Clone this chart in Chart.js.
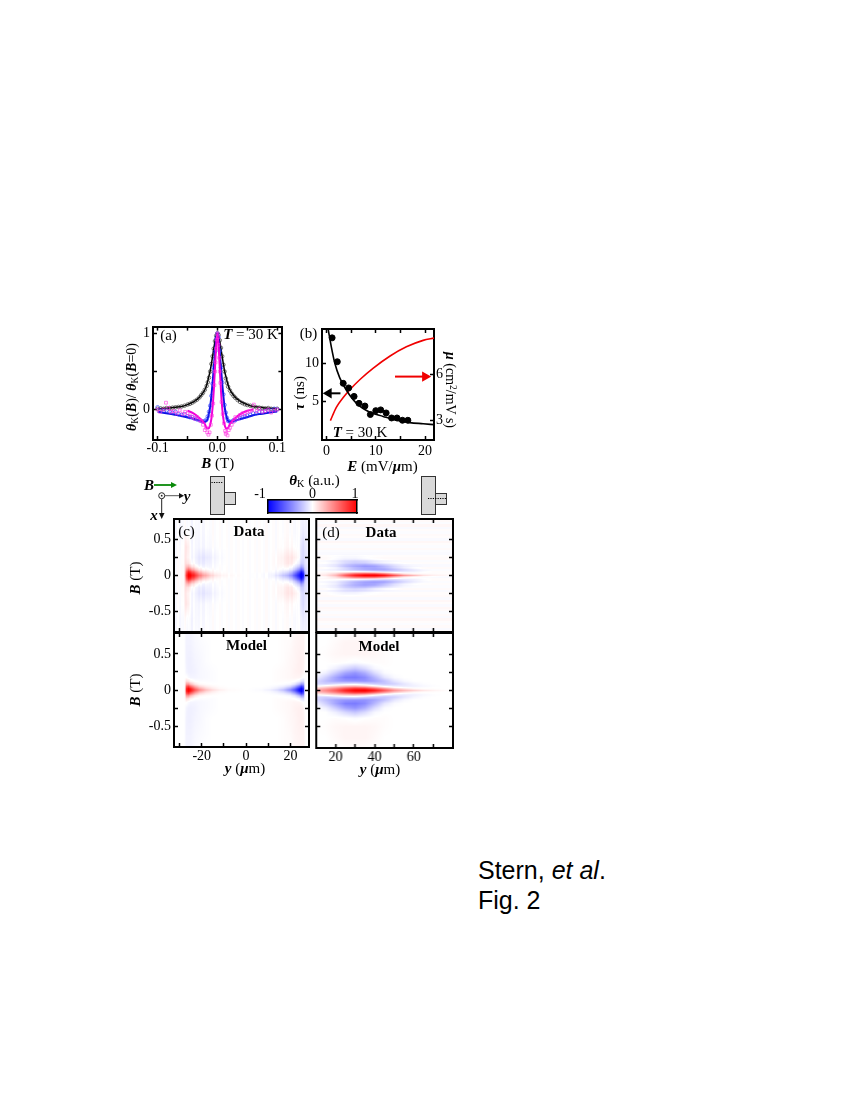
<!DOCTYPE html>
<html><head><meta charset="utf-8">
<script src="https://cdn.jsdelivr.net/npm/chart.js@4"></script>
<style>
html,body{margin:0;padding:0;background:#fff;width:850px;height:1100px;overflow:hidden}
canvas{position:absolute}
.t{position:absolute;white-space:nowrap;font-family:"Liberation Serif",serif;font-size:15px;color:#000;line-height:1;transform:translate(-50%,-50%)}
.b{font-weight:bold}.bi{font-weight:bold;font-style:italic}
sub{font-size:.68em;line-height:0;vertical-align:-.25em}sup{font-size:.68em;line-height:0;vertical-align:.4em}
.box{position:absolute;background:#d9d9d9;border:1.3px solid #333;box-sizing:border-box}
svg{position:absolute;left:0;top:0}
</style></head><body>
<script>
// ---------- panel (a): Kerr rotation vs field ----------
const aLineB=[-.1,-.08,-.07,-.06,-.05,-.04,-.03,-.025,-.021,-.018,-.015,-.012,-.01,-.008,-.006,-.004,-.002,0,.002,.004,.006,.008,.01,.012,.015,.018,.021,.025,.03,.04,.05,.06,.07,.08,.1];
const aLineBlack=[.01,.02,.03,.04,.065,.10,.16,.21,.26,.32,.41,.51,.6,.7,.8,.9,.97,1,.97,.9,.8,.7,.6,.51,.41,.32,.26,.21,.16,.10,.065,.04,.03,.02,.01];
const aLineBlue=[-.03,-.055,-.07,-.085,-.1,-.12,-.145,-.155,-.16,-.15,-.08,.04,.18,.35,.55,.75,.93,1,.93,.75,.55,.35,.18,.04,-.08,-.15,-.16,-.155,-.145,-.12,-.1,-.075,-.06,-.05,-.025];
const aMagLineB=[-.05,-.04,-.03,-.025,-.021,-.018,-.015,-.012,-.01,-.008,-.006,-.004,-.002,0,.002,.004,.006,.008,.01,.012,.015,.018,.021,.025,.03,.04,.05,.06];
const aLineMagenta=[-.015,-.05,-.11,-.15,-.19,-.24,-.25,-.2,-.12,.03,.25,.55,.85,1,.85,.55,.25,.03,-.12,-.2,-.25,-.24,-.19,-.15,-.11,-.05,-.015,0];
const aPtsB=[-.1,-.095,-.09,-.085,-.08,-.075,-.07,-.065,-.06,-.055,-.05,-.046,-.042,-.038,-.034,-.03,-.027,-.024,-.021,-.018,-.016,-.014,-.012,-.01,-.008,-.006,-.004,-.002,0,.002,.004,.006,.008,.01,.012,.014,.016,.018,.021,.024,.027,.03,.034,.038,.042,.046,.05,.055,.06,.065,.07,.075,.08,.085,.09,.095,.1];
const aPtsBlack=[.01,.015,.01,.02,.02,.025,.03,.035,.04,.05,.065,.075,.09,.11,.13,.16,.19,.22,.26,.31,.36,.42,.5,.6,.7,.8,.9,.97,1,.98,.91,.81,.7,.59,.5,.41,.35,.3,.25,.21,.18,.155,.125,.1,.085,.07,.06,.05,.04,.03,.025,.02,.015,.02,.01,.005,.01];
const aPtsBlue=[.03,-.01,-.02,-.01,-.03,-.04,-.03,-.06,-.07,-.06,-.09,-.1,-.1,-.12,-.13,-.14,-.15,-.16,-.15,-.13,-.09,-.03,.05,.18,.34,.55,.76,.93,1,.95,.77,.55,.36,.2,.06,-.04,-.11,-.15,-.16,-.16,-.14,-.14,-.12,-.11,-.1,-.09,-.08,-.07,-.05,-.05,-.03,-.03,-.02,-.01,-.01,.01,0];
const aMagB=[-.1,-.096,-.09,-.086,-.082,-.078,-.073,-.068,-.063,-.058,-.054,-.05,-.046,-.042,-.038,-.034,-.03,-.027,-.024,-.021,-.019,-.017,-.015,-.013,-.011,-.009,-.007,-.005,-.004,-.003,-.002,-.001,0,.001,.002,.003,.004,.005,.007,.009,.011,.013,.014,.015,.017,.019,.021,.024,.027,.03,.034,.038,.042,.046,.05,.054,.058,.061,.066,.07,.075,.08,.085,.09,.095,.1];
const aMagV=[0,-.03,0,.09,.02,-.03,-.02,-.05,-.01,-.06,-.03,-.05,-.08,-.1,-.12,-.1,-.14,-.15,-.2,-.27,-.24,-.3,-.33,-.3,-.2,-.08,.08,.32,.5,.62,.8,.92,1,.95,.85,.68,.5,.35,.1,-.06,-.18,-.28,-.32,-.3,-.34,-.27,-.24,-.2,-.16,-.1,-.12,-.07,-.05,-.06,-.03,-.02,-.01,.065,-.02,.01,-.03,-.02,0,-.04,-.01,0];
// ---------- panel (b): lifetime and mobility vs field ----------
const bPtsE=[1.15,2.2,3.4,4.5,5.6,6.6,7.8,8.9,10,11,12.1,13.2,14.3,15.4,16.5];
const bPtsTau=[13.3,10.2,7.4,6.8,5.7,4.8,4.45,3.35,3.85,3.95,3.55,2.9,2.9,2.6,2.6];
const bFitE=[.34,1,1.7,2.7,4.05,6.1,8.8,11.5,14.2,16.9,19.6,21.8];
const bFitTau=[14.45,12.1,10,8.1,6.5,4.8,3.65,3.1,2.6,2.3,2.15,2.03];
const bMuE=[.8,2,3.4,4.7,6.8,9.5,12.9,16.2,19.6,21.8];
const bMu=[2.98,3.85,4.49,4.98,5.66,6.4,7.19,7.79,8.21,8.36];
const bArrowTauE=[2.84,.45], bArrowTau=[6.1,6.1];
const bArrowMuE=[13.9,20.0], bArrowMu=[5.85,5.85];
// ---------- heat maps: values in percent of full scale, rows by |B| ----------
const cY=[-33,-28,-27.5,-27,-26,-25,-23,-21,-18,-15,-12,-8,0,7,11,14,17,20,22,24,25,26,26.5,27,29];
const cB=[0,.02,.05,.08,.12,.17,.25,.4,.6,.8];
const cData=[
[0,2,25,75,100,100,78,52,30,14,6,2,0,-1,-3,-10,-22,-38,-62,-92,-100,-90,-45,-22,-10],
[0,2,22,70,98,95,72,45,24,10,4,1,0,-1,-3,-7,-17,-32,-55,-88,-100,-85,-38,-18,-9],
[0,2,18,60,85,78,52,28,12,4,1,0,0,0,-1,-3,-9,-20,-40,-72,-88,-70,-28,-14,-8],
[0,2,14,42,58,48,26,10,2,0,0,0,0,0,0,0,-2,-7,-20,-48,-62,-48,-20,-11,-7],
[0,2,10,26,30,20,6,-1,-3,-2,0,0,0,0,0,1,2,2,-6,-25,-36,-28,-14,-9,-6],
[0,1,7,14,10,3,-3,-7,-6,-3,-1,0,0,0,0,2,5,9,4,-9,-18,-18,-11,-7,-4],
[0,1,5,10,4,-1,-5,-9,-9,-5,-2,0,0,0,0,2,6,10,9,-2,-10,-14,-10,-7,-4],
[0,0,4,12,6,-1,-3,-3,-2,-1,0,0,0,0,0,0,1,2,2,-3,-9,-14,-8,-5,-3],
[0,-2,-1,1,-1,-3,-3,-2,-1,0,0,0,0,0,0,0,0,0,0,-2,-4,-8,-5,-3,-2],
[0,-2,-2,-1,-2,-3,-2,-1,0,0,0,0,0,0,0,0,0,0,0,-1,-3,-4,-3,-2,-1]];
const cModel=[
[0,0,10,85,100,95,68,46,26,14,7,2,0,-2,-7,-14,-26,-46,-68,-95,-100,-85,-10,0,0],
[0,0,9,80,97,85,55,34,17,8,3,1,0,-1,-3,-8,-17,-34,-55,-85,-97,-80,-9,0,0],
[0,0,7,62,75,58,32,16,7,3,1,0,0,0,-1,-3,-7,-16,-32,-58,-75,-62,-7,0,0],
[0,0,5,36,40,26,10,3,1,0,0,0,0,0,0,0,-1,-3,-10,-26,-40,-36,-5,0,0],
[0,0,3,14,12,5,0,-1,-1,-1,0,0,0,0,0,1,1,1,0,-5,-12,-14,-3,0,0],
[0,0,0,1,-2,-4,-4,-3,-2,-1,0,0,0,0,0,1,2,3,4,4,2,-1,0,0,0],
[0,0,-1,-4,-6,-6,-5,-3,-2,-1,0,0,0,0,0,1,2,3,5,6,6,4,1,0,0],
[0,0,-2,-5,-6,-6,-4,-3,-1,0,0,0,0,0,0,0,1,3,4,6,6,5,2,0,0],
[0,0,-2,-5,-5,-5,-3,-2,-1,0,0,0,0,0,0,0,1,2,4,5,5,5,2,0,0],
[0,0,-2,-4,-4,-4,-2,-1,0,0,0,0,0,0,0,0,1,1,3,4,4,4,2,0,0]];
const dY=[10,15,20,25,30,35,40,45,50,55,60,65,70,75,80];
const dB=[0,.02,.04,.06,.09,.13,.18,.24,.3,.38,.5,.65,.8];
const dData=[
[3,8,25,60,85,98,100,90,65,40,25,10,4,2,0],
[2,5,18,45,68,78,78,62,35,14,5,2,1,0,0],
[1,2,6,14,25,28,25,14,2,-3,-3,-1,0,0,0],
[0,-1,-2,-6,-10,-15,-20,-22,-18,-12,-8,-3,0,0,0],
[0,-2,-6,-16,-28,-35,-38,-35,-24,-14,-6,-1,0,0,0],
[0,-2,-8,-22,-32,-38,-35,-24,-12,-4,-1,0,0,0,0],
[0,-1,-6,-15,-20,-18,-10,-5,-2,0,0,0,0,0,0],
[0,0,-3,-6,-6,-3,-1,0,0,0,0,0,0,0,0],
[0,0,0,0,0,0,0,0,0,0,0,0,0,0,0],
[0,0,0,0,0,0,0,0,0,0,0,0,0,0,0],
[0,0,0,0,0,0,0,0,0,0,0,0,0,0,0],
[0,0,0,0,0,0,0,0,0,0,0,0,0,0,0],
[0,0,0,0,0,0,0,0,0,0,0,0,0,0,0]];
const dModel=[
[30,45,62,85,98,100,88,65,42,28,18,10,5,2,0],
[25,38,55,75,88,88,72,50,28,15,6,2,1,0,0],
[12,22,35,50,60,55,38,18,4,-1,-2,-1,0,0,0],
[-2,6,14,22,25,18,5,-5,-8,-8,-6,-3,-1,0,0],
[-15,-18,-14,-10,-8,-14,-20,-22,-18,-10,-4,-1,0,0,0],
[-14,-25,-35,-40,-42,-42,-35,-24,-10,-3,0,0,0,0,0],
[-5,-18,-35,-50,-52,-45,-28,-10,-2,0,0,0,0,0,0],
[0,-6,-20,-35,-42,-32,-14,-2,0,0,0,0,0,0,0],
[0,0,-6,-15,-22,-14,-3,0,0,0,0,0,0,0,0],
[0,0,1,0,-2,0,1,1,0,0,0,0,0,0,0],
[0,1,3,4,4,4,3,1,0,0,0,0,0,0,0],
[0,0,2,4,4,4,2,0,0,0,0,0,0,0,0],
[0,0,0,1,2,1,0,0,0,0,0,0,0,0,0]];
// faint stripes seen in the measured panels (vertical in c, horizontal in d)
const cStripes=[-3,1,-2,0,3,-1,1,-2,2,0,-1,1,-2,1,0,-1,2,-1,0,1,-1,0,1,-1,1,0,-1,1,0,-1,0,1,-1,0,1,-1,1,0,-1,2,-1,0,1,-2,1,0,-1,1,2,-1,1,-2,0,2,-2,-1,-3,-2];
const dStripes=[2,-1,3,-2,1,-1,2,1,-2,3,1,-1,2,-1,-2,1,2,-1,1,-2,2,-1,1,2,-2,1,-1,1,-1,2,-2,1,2,-2,3,1,-2,3,2,-1,2,-2,3,1,-1,2,-2,1];
const barV=[-100,-75,-50,-25,0,25,50,75,100];
// ---------- tick values ----------
const aXT=[-.1,-.05,0,.05,.1],aXL=['-0.1','','0.0','','0.1'];
const aYT=[0,.5,1],aYL=['0','','1'];
const bXT=[0,5,10,15,20],bXL=['0','','10','','20'];
const bYT=[5,10],bYL=['5','10'];
const bMT=[3,6],bML=['3','6'];
const hBT=[-.5,-.25,0,.25,.5],hBL=['-0.5','','0','','0.5'];
const cXT=[-30,-20,-10,0,10,20],cXL=['','-20','','0','','20'];
const dXT=[20,30,40,50,60,70],dXL=['20','','40','','60',''];

const FONT='"Liberation Serif",serif';
Chart.defaults.font.family=FONT;
function heatColor(v){v=Math.max(-1,Math.min(1,v/100));
  return v>=0?[255,255*(1-v),255*(1-v)]:[255*(1+v),255*(1+v),255];}
function locate(arr,v){let i=0;while(i<arr.length-2&&v>arr[i+1])i++;
  let f=(v-arr[i])/(arr[i+1]-arr[i]);return [i,Math.max(0,Math.min(1,f))];}
const heatPlugin={id:'heat',beforeDraw(chart,a,o){
  if(!o.grid)return;
  const A=chart.chartArea,xS=chart.scales.x,yS=chart.scales.y;
  const w=Math.ceil(A.right-A.left),h=Math.ceil(A.bottom-A.top);
  const off=document.createElement('canvas');off.width=w;off.height=h;
  const c=off.getContext('2d'),img=c.createImageData(w,h);
  for(let py=0;py<h;py++){
    const b=Math.abs(yS.getValueForPixel(A.top+py+.5));
    const [r,fr]=locate(o.rows,b);
    for(let px=0;px<w;px++){
      const xv=xS.getValueForPixel(A.left+px+.5);
      const [k,fk]=locate(o.cols,xv);
      const g=o.grid;
      let v=(g[r][k]*(1-fk)+g[r][k+1]*fk)*(1-fr)+(g[r+1][k]*(1-fk)+g[r+1][k+1]*fk)*fr;
      if(o.stripes){const s=o.stripeAxis==='x'?px/w:py/h;v+=o.stripes[Math.floor(s*o.stripes.length)];}
      const col=heatColor(v),i=(py*w+px)*4;
      img.data[i]=col[0];img.data[i+1]=col[1];img.data[i+2]=col[2];img.data[i+3]=255;
    }
  }
  c.putImageData(img,0,0);chart.ctx.drawImage(off,A.left,A.top);
}};
Chart.register(heatPlugin);
function axis(pos,min,max,ticks,labels,size,pad,bw){
  const horiz=pos==='top'||pos==='bottom';
  return {type:'linear',position:pos,min,max,
    afterBuildTicks:s=>{s.ticks=ticks.map(v=>({value:v}));},
    afterFit:s=>{if(horiz)s.height=size;else s.width=size;s.paddingLeft=s.paddingRight=s.paddingTop=s.paddingBottom=0;},
    grid:{display:true,drawOnChartArea:false,drawTicks:true,tickLength:-4,tickColor:'#000',tickWidth:1.5},
    border:{display:true,color:'#000',width:bw||2},
    ticks:{display:!!labels,autoSkip:false,maxRotation:0,minRotation:0,padding:pad||7,color:'#000',
      font:{family:FONT,size:14},callback:(v,i)=>labels?labels[i]:''}};
}
function panel(f,m,scales,datasets,heat){
  const cv=document.createElement('canvas');
  const W=f.r-f.l+m.l+m.r,H=f.b-f.t+m.t+m.b;
  cv.width=W;cv.height=H;cv.style.left=(f.l-m.l)+'px';cv.style.top=(f.t-m.t)+'px';cv.style.width=W+'px';cv.style.height=H+'px';
  document.body.appendChild(cv);
  return new Chart(cv,{type:'scatter',data:{datasets},options:{responsive:false,animation:false,devicePixelRatio:1,events:[],
    layout:{padding:0},scales,plugins:{legend:{display:false},tooltip:{enabled:false},heat:heat||{}}}});
}
const xy=(xs,ys)=>xs.map((x,i)=>({x,y:ys[i]}));
const lineDs=(xs,ys,color,w,extra)=>Object.assign({data:xy(xs,ys),showLine:true,borderColor:color,borderWidth:w,pointRadius:0,cubicInterpolationMode:'monotone'},extra||{});
const ptDs=(xs,ys,color,style,r)=>({data:xy(xs,ys),showLine:false,pointStyle:style,pointRadius:r,pointBorderColor:color,pointBackgroundColor:'rgba(0,0,0,0)',pointBorderWidth:.6});
const M={l:44,r:4,t:4,b:26};
// panel (a)
panel({l:153,r:283,t:326,b:440},M,{
  x:axis('bottom',-.1077,.1088,aXT,aXL,M.b,4),x2:axis('top',-.1077,.1088,aXT,null,M.t),
  y:axis('left',-.40,1.09,aYT,aYL,M.l,7),y2:axis('right',-.40,1.09,aYT,null,M.r)},[
  ptDs(aMagB,aMagV,'#ff30e0','rect',2),
  lineDs(aMagLineB,aLineMagenta,'#f000d8',2),
  ptDs(aPtsB,aPtsBlue,'#2030ff','circle',1.8),
  lineDs(aLineB,aLineBlue,'#1010e0',2),
  ptDs(aPtsB,aPtsBlack,'#222','circle',1.8),
  lineDs(aLineB,aLineBlack,'#000',1.5)]);
// panel (b)
panel({l:322,r:434,t:327,b:440},{l:44,r:26,t:4,b:26},{
  x:axis('bottom',-.9,21.8,bXT,bXL,26,7),x2:axis('top',-.9,21.8,bXT,null,4),
  y:axis('left',.04,14.45,bYT,bYL,44,7),y2:axis('right',1.72,8.95,bMT,bML,26,6)},[
  {data:xy(bPtsE,bPtsTau),showLine:false,pointStyle:'circle',pointRadius:3,pointBackgroundColor:'#000',pointBorderColor:'#000'},
  lineDs(bFitE,bFitTau,'#000',1.6),
  lineDs(bMuE,bMu,'#f00000',1.6,{yAxisID:'y2'}),
  {data:xy(bArrowTauE,bArrowTau),showLine:true,borderColor:'#000',borderWidth:2,pointStyle:'triangle',pointRadius:[0,4],pointRotation:[0,270],pointBackgroundColor:'#000',pointBorderColor:'#000'},
  {data:xy(bArrowMuE,bArrowMu),yAxisID:'y2',showLine:true,borderColor:'#f00000',borderWidth:2,pointStyle:'triangle',pointRadius:[0,4],pointRotation:[0,90],pointBackgroundColor:'#f00000',pointBorderColor:'#f00000'}]);
function heatPanel(f,xMin,xMax,xT,xL,yL,cols,rows,grid,stripes,stripeAxis){
  const m={l:44,r:3,t:3,b:xL?26:3};
  const cells=[];rows.forEach((b,r)=>cols.forEach((y,k)=>cells.push({x:y,y:b,v:grid[r][k]})));
  panel(f,m,{x:axis('bottom',xMin,xMax,xT,xL,m.b,5),x2:axis('top',xMin,xMax,xT,null,m.t),
    y:axis('left',-.79,.79,hBT,yL,m.l,7),y2:axis('right',-.79,.79,hBT,null,m.r)},
    [{data:cells,pointRadius:0,showLine:false}],{cols,rows,grid,stripes,stripeAxis});
}
heatPanel({l:173.5,r:309,t:519,b:632},-32.5,28.4,cXT,null,hBL,cY,cB,cData,cStripes,'x');
heatPanel({l:173.5,r:309,t:633,b:747},-32.5,28.4,cXT,cXL,hBL,cY,cB,cModel);
heatPanel({l:316,r:452.5,t:519,b:632},10.1,80.1,dXT,null,null,dY,dB,dData,dStripes,'y');
heatPanel({l:316,r:452.5,t:633,b:748},10.1,80.1,dXT,dXL,null,dY,dB,dModel);
// colour bar, drawn from the same colour scale
const barMargin={l:3,r:3,t:3,b:3};
panel({l:267.5,r:356.5,t:499.5,b:512.5},barMargin,{
  x:Object.assign(axis('bottom',-1,1,[],null,3,0,1.5),{grid:{display:false}}),
  x2:Object.assign(axis('top',-1,1,[],null,3,0,1.5),{grid:{display:false}}),
  y:Object.assign(axis('left',0,1,[],null,3,0,1.5),{grid:{display:false}}),
  y2:Object.assign(axis('right',0,1,[],null,3,0,1.5),{grid:{display:false}})},
  [{data:barV.map(v=>({x:v/100,y:.5})),pointRadius:0,showLine:false}],
  {cols:barV.map(v=>v/100),rows:[0,1],grid:[barV,barV]});
// text
function T(html,x,y,o){o=o||{};const d=document.createElement('div');d.className='t'+(o.c?' '+o.c:'');d.innerHTML=html;
  d.style.left=x+'px';d.style.top=y+'px';if(o.s)d.style.fontSize=o.s+'px';if(o.f)d.style.fontFamily=o.f;
  if(o.r)d.style.transform='translate(-50%,-50%) rotate('+o.r+'deg)';if(o.l)d.style.transform='translate(0,-50%)';
  document.body.appendChild(d);}
const bi=s=>'<span class="bi">'+s+'</span>';
T('(a)',168.5,335);T(bi('T')+' = 30 K',250.5,334);
T(bi('θ')+'<sub>K</sub>('+bi('B')+')/ '+bi('θ')+'<sub>K</sub>('+bi('B')+'=0)',132,387,{r:-90,s:14});
T(bi('B')+' (T)',217.7,463);
T('(b)',308.5,333);T(bi('τ')+' (ns)',299,393,{r:-90});
T(bi('μ')+' (cm<sup>2</sup>/mV s)',450,390,{r:90,s:14});
T(bi('T')+' = 30 K',360,432);T(bi('E')+' (mV/'+bi('μ')+'m)',382.5,466);
T(bi('θ')+'<sub>K</sub> (a.u.)',314.5,480);T('-1',260,494,{s:14});T('0',312.5,494,{s:14});T('1',355,494,{s:14});
T(bi('B'),149,485);T(bi('y'),187,496);T(bi('x'),154,515);
T('(c)',186.5,531);T('Data',249,531,{c:'b'});T('(d)',331,531.5);T('Data',381,531.5,{c:'b'});
T('Model',246.5,645,{c:'b'});T('Model',379,645.5,{c:'b'});
T(bi('B')+' (T)',135,578,{r:-90});T(bi('B')+' (T)',135,690,{r:-90});
T(bi('y')+' ('+bi('μ')+'m)',245,768);T(bi('y')+' ('+bi('μ')+'m)',380,769);
T('Stern, <i>et al</i>.',478,870,{f:'"Liberation Sans",sans-serif',s:25,l:1});
T('Fig. 2',478,900,{f:'"Liberation Sans",sans-serif',s:25,l:1});
// sample sketches
function box(l,t,r,b){const d=document.createElement('div');d.className='box';d.style.cssText='left:'+l+'px;top:'+t+'px;width:'+(r-l)+'px;height:'+(b-t)+'px';document.body.appendChild(d);}
box(224,491.5,236,504.5);box(209.5,476,224.5,514.5);box(435,492.5,447,505);box(420.5,476,435.5,515);
document.body.insertAdjacentHTML('beforeend','<svg width="850" height="1100">'+
 '<line x1="211.5" y1="482.5" x2="223" y2="482.5" stroke="#000" stroke-width="1" stroke-dasharray="1.2 1.2"/>'+
 '<line x1="428" y1="498.5" x2="446" y2="498.5" stroke="#000" stroke-width="1" stroke-dasharray="1.2 1.2"/>'+
 '<line x1="154" y1="485" x2="172" y2="485" stroke="#0a8a0a" stroke-width="1.8"/><polygon points="177,485 171,482 171,488" fill="#0a8a0a"/>'+
 '<circle cx="161.7" cy="495.7" r="3" fill="none" stroke="#222"/><circle cx="161.7" cy="495.7" r=".9" fill="#222"/>'+
 '<line x1="165" y1="495.7" x2="180" y2="495.7" stroke="#555" stroke-width="1"/><polygon points="184,495.7 179,493 179,498.5" fill="#111"/>'+
 '<line x1="161.7" y1="499" x2="161.7" y2="514" stroke="#222" stroke-width="1"/><polygon points="161.7,519 159,513 164.5,513" fill="#111"/>'+
 '</svg>');
</script>
</body></html>
